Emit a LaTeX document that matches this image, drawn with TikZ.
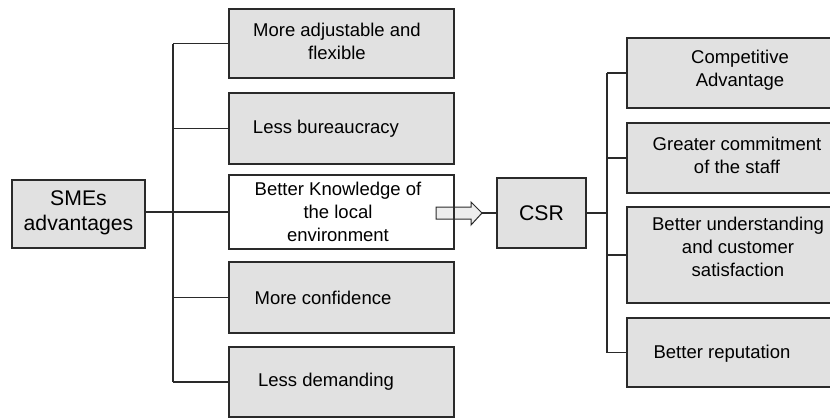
\documentclass[tikz,border=0pt]{standalone}
\usepackage{fontspec}
\setmainfont{Liberation Sans}
\definecolor{boxgray}{HTML}{E1E1E1}
\definecolor{linegray}{HTML}{2A2A2A}
\begin{document}
\begin{tikzpicture}[x=0.5pt,y=-0.5pt,
    box/.style={draw=linegray,line width=0.65pt,fill=boxgray,rectangle,inner sep=0pt},
    plainbox/.style={draw=linegray,line width=0.65pt,rectangle,inner sep=0pt},
    item/.style={align=center,inner sep=0pt,font=\fontsize{9.25}{11.5}\selectfont},
    head/.style={align=center,inner sep=0pt,font=\fontsize{10.6}{12.5}\selectfont},
    wire/.style={draw=linegray,line width=0.6pt}]
      \useasboundingbox (0,0) rectangle (830,418);
      % block arrow first, the box border crosses it
      \draw[draw=linegray,line width=0.5pt,fill=boxgray!60]
        (436,207) -- (471,207) -- (471,202) -- (482,213) -- (471,225)
        -- (471,219) -- (436,219) -- cycle;
      \coordinate (tip) at (482,213);
      \coordinate (lspine) at (173,0);
      \coordinate (rspine) at (607,0);
      % left side
      \node[box,minimum width=66.5pt,minimum height=34pt] (sme) at (78.5,214) {};
      \node[head] (smet) at (78.5,213) {SMEs\\advantages};
      \node[box,minimum width=112.5pt,minimum height=34.5pt] (l1) at (341.5,43.5) {};
      \node[box,minimum width=112.5pt,minimum height=35.5pt] (l2) at (341.5,128.5) {};
      \node[plainbox,minimum width=112.5pt,minimum height=37pt] (l3) at (341.5,212) {};
      \node[box,minimum width=112.5pt,minimum height=35.5pt] (l4) at (341.5,297.5) {};
      \node[box,minimum width=112.5pt,minimum height=35pt] (l5) at (341.5,382) {};
      \node[item] (l1t) at (337,41) {More adjustable and\\flexible};
      \node[item] (l2t) at (326,129) {Less bureaucracy};
      \node[item] (l3t) at (338,212) {Better Knowledge of\\the local\\environment};
      \node[item] (l4t) at (323,298) {More confidence};
      \node[item] (l5t) at (326,382) {Less demanding};
      % CSR and right side
      \node[box,minimum width=44.5pt,minimum height=35pt] (csr) at (541.5,213) {};
      \node[head] (csrt) at (541.5,213) {CSR};
      \node[box,minimum width=104pt,minimum height=35pt] (r1) at (731,73) {};
      \node[box,minimum width=104pt,minimum height=35pt] (r2) at (731,158) {};
      \node[box,minimum width=104pt,minimum height=48pt] (r3) at (731,255) {};
      \node[box,minimum width=104pt,minimum height=34.5pt] (r4) at (731,352.5) {};
      \node[item] (r1t) at (740,70) {Competitive\\Advantage};
      \node[item] (r2t) at (737,155) {Greater commitment\\of the staff};
      \node[item] (r3t) at (738,247) {Better understanding\\and customer\\satisfaction};
      \node[item] (r4t) at (722,354) {Better reputation};
      \begin{scope}[wire]
        \draw (lspine |- l1.west) -- (lspine |- l5.west);
        \draw (l3.west) -- (l3.west -| sme.east);
        \draw (l1.west) -- (l1.west -| lspine);
        \draw (l2.west) -- (l2.west -| lspine);
        \draw (l4.west) -- (l4.west -| lspine);
        \draw (l5.west) -- (l5.west -| lspine);
        \draw (tip) -- (csr.west);
        \draw (rspine |- r1.west) -- (rspine |- r4.west);
        \draw (csr.east) -- (csr.east -| rspine);
        \draw (r1.west) -- (r1.west -| rspine);
        \draw (r2.west) -- (r2.west -| rspine);
        \draw (r3.west) -- (r3.west -| rspine);
        \draw (r4.west) -- (r4.west -| rspine);
      \end{scope}
    \end{tikzpicture}
\end{document}
